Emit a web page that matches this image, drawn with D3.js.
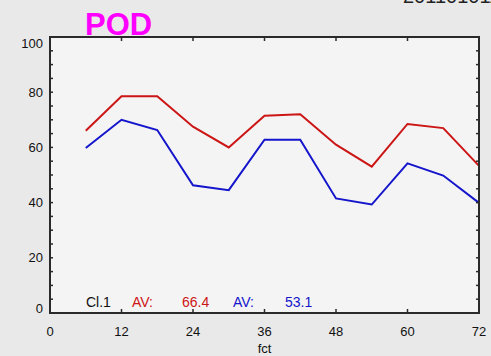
<!DOCTYPE html>
<html>
<head>
<meta charset="utf-8">
<script src="https://cdn.jsdelivr.net/npm/d3@7"></script>
<style>
  html, body { margin: 0; padding: 0; background: #e9e9e9; }
  svg { display: block; }
  text { font-family: "Liberation Sans", Arial, sans-serif; }
</style>
</head>
<body>
<svg id="chart" width="491" height="356"></svg>
<script>
// Forecast hours
const fct = [6, 12, 18, 24, 30, 36, 42, 48, 54, 60, 66, 72];
// POD scores for the two runs
const podRed  = [66, 78.5, 78.5, 67.5, 60, 71.5, 72, 61, 53, 68.5, 67, 53.3];
const podBlue = [59.8, 70, 66.3, 46.3, 44.5, 62.8, 62.8, 41.5, 39.3, 54.2, 49.8, 39.9];
// Axis ticks
const xTicks = [0, 12, 24, 36, 48, 60, 72];
const yTicks = [0, 20, 40, 60, 80, 100];
const yMinor = d3.range(0, 101, 5);

(function () {
  const svg = d3.select("#chart");
  const W = 491, H = 356;
  const pl = 50, pr = 479, pt = 37, pb = 313;

  svg.append("rect").attr("width", W).attr("height", H).attr("fill", "#e9e9e9");

  const x = d3.scaleLinear().domain([0, 72]).range([pl, pr]);
  const y = d3.scaleLinear().domain([0, 100]).range([pb, pt]);

  // plot area
  svg.append("rect")
    .attr("x", pl).attr("y", pt)
    .attr("width", pr - pl).attr("height", pb - pt)
    .attr("fill", "#f4f4f4");

  // lines
  const line = d3.line().x((d, i) => x(fct[i])).y(d => y(d));
  svg.append("path").datum(podRed)
    .attr("d", line).attr("fill", "none")
    .attr("stroke", "#cc1515").attr("stroke-width", 2);
  svg.append("path").datum(podBlue)
    .attr("d", line).attr("fill", "none")
    .attr("stroke", "#1515cc").attr("stroke-width", 2);

  // frame
  svg.append("rect")
    .attr("x", pl).attr("y", pt)
    .attr("width", pr - pl).attr("height", pb - pt)
    .attr("fill", "none").attr("stroke", "#2a2a2a").attr("stroke-width", 2);

  // inward ticks: bottom/top majors, left/right minors
  const tickG = svg.append("g").attr("stroke", "#2a2a2a").attr("stroke-width", 1.5);
  xTicks.slice(1, -1).forEach(t => {
    tickG.append("line").attr("x1", x(t)).attr("x2", x(t)).attr("y1", pb).attr("y2", pb - 4);
    tickG.append("line").attr("x1", x(t)).attr("x2", x(t)).attr("y1", pt).attr("y2", pt + 4);
  });
  yMinor.slice(1, -1).forEach(t => {
    tickG.append("line").attr("x1", pl).attr("x2", pl + 3).attr("y1", y(t)).attr("y2", y(t));
    tickG.append("line").attr("x1", pr).attr("x2", pr - 3).attr("y1", y(t)).attr("y2", y(t));
  });

  // x tick labels
  svg.append("g").selectAll("text").data(xTicks).join("text")
    .attr("x", d => x(d)).attr("y", 336)
    .attr("text-anchor", "middle").attr("font-size", 13).attr("fill", "#111")
    .text(d => d);

  // y tick labels (end labels kept inside the frame height)
  svg.append("g").selectAll("text").data(yTicks).join("text")
    .attr("x", 43)
    .attr("y", d => Math.min(Math.max(y(d), pt + 6), pb - 5))
    .attr("dy", "0.36em")
    .attr("text-anchor", "end").attr("font-size", 13).attr("fill", "#111")
    .text(d => d);

  // axis title
  svg.append("text").attr("x", x(36)).attr("y", 353)
    .attr("text-anchor", "middle").attr("font-size", 13).attr("fill", "#111")
    .text("fct");

  // title
  svg.append("text").attr("x", 85).attr("y", 35)
    .attr("font-size", 31).attr("font-weight", "bold").attr("fill", "#ff00ff")
    .text("POD");

  // date stamp, top right (runs off the top edge)
  svg.append("text").attr("x", 403).attr("y", 2.5)
    .attr("font-size", 20).attr("fill", "#222")
    .text("2011010112");

  // averages
  const avg = a => d3.mean(a).toFixed(1);
  const ann = svg.append("text").attr("y", 307).attr("font-size", 14);
  ann.append("tspan").attr("x", 86).attr("fill", "#111").text("Cl.1");
  ann.append("tspan").attr("x", 132).attr("fill", "#cc1515").text("AV:");
  ann.append("tspan").attr("x", 182).attr("fill", "#cc1515").text(avg(podRed));
  ann.append("tspan").attr("x", 233).attr("fill", "#1515cc").text("AV:");
  ann.append("tspan").attr("x", 285).attr("fill", "#1515cc").text(avg(podBlue));
})();
</script>
</body>
</html>
